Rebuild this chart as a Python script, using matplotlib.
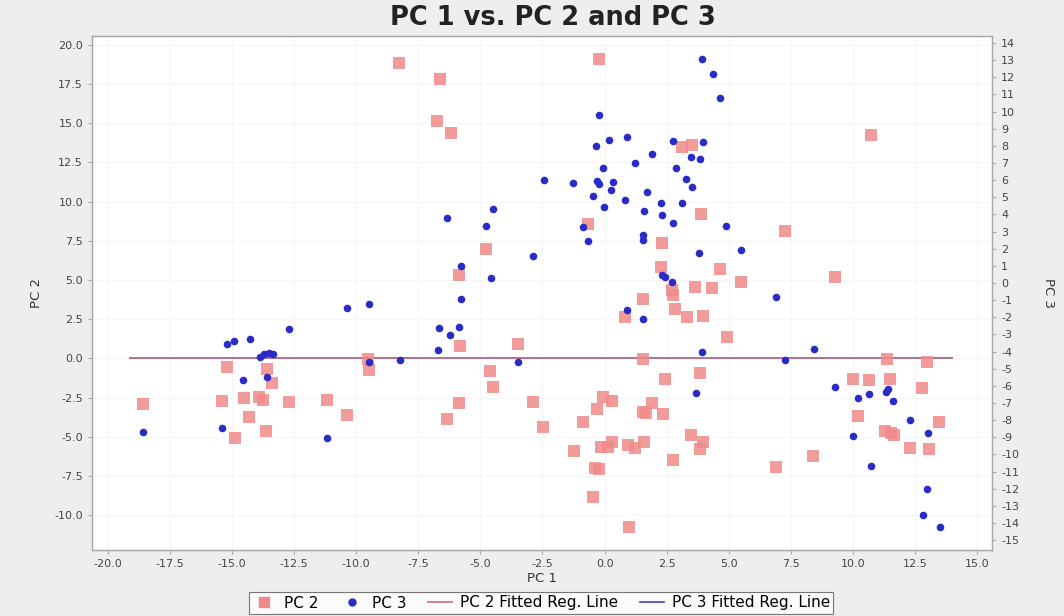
import numpy as np
import matplotlib.pyplot as plt
from matplotlib.lines import Line2D

plt.rcParams['axes.unicode_minus'] = False
plt.rcParams['font.family'] = ['DejaVu Sans']

# PC 2 scores (red squares) against PC 1
pc1_a = [-18.58, -15.22, -15.40, -14.89, -14.52, -14.31, -13.91, -13.75, -13.65, -13.61,
         -13.38, -12.70, -11.19, -10.39, -9.52, -9.48,
         -8.27, -6.63, -0.23, -6.74, -6.19, -0.66, -4.78, -5.85, 2.30, 2.26, 1.56, 0.82,
         -5.82, -3.50, 1.56, -4.62, -4.48, -5.85, -2.87, -6.34, -2.47, 2.43, -0.05, 0.31,
         -0.32, 1.90, 1.56, 1.65, 2.34, -0.86, 0.29, -0.16, 0.15, 0.95, 1.22, 1.60, -1.22,
         -0.37, -0.24, -0.46, 0.98, 2.74,
         3.10, 3.52, 10.72, 3.89, 7.28, 4.66, 5.51, 9.29, 3.66, 4.34, 2.70, 2.76, 2.83,
         3.30, 3.96, 4.92, 11.36, 12.97, 3.84, 10.02, 10.66, 11.49, 12.78, 10.22, 13.48,
         3.47, 3.95, 3.84, 11.30, 11.55, 11.66, 12.30, 13.05, 8.41, 6.90]
pc2 = [-2.94, -0.54, -2.71, -5.09, -2.51, -3.75, -2.47, -2.66, -4.62, -0.68,
       -1.56, -2.77, -2.66, -3.60, -0.06, -0.75,
       18.86, 17.82, 19.08, 15.14, 14.38, 8.57, 6.97, 5.34, 7.38, 5.85, 3.78, 2.65,
       0.81, 0.89, -0.06, -0.83, -1.85, -2.87, -2.79, -3.87, -4.40, -1.30, -2.45, -2.71,
       -3.25, -2.83, -3.43, -3.47, -3.54, -4.08, -5.32, -5.68, -5.64, -5.55, -5.74, -5.32, -5.92,
       -7.02, -7.06, -8.83, -10.75, -6.46,
       13.47, 13.61, 14.25, 9.22, 8.14, 5.70, 4.87, 5.17, 4.54, 4.48, 4.33, 4.04, 3.13,
       2.65, 2.71, 1.36, -0.02, -0.24, -0.96, -1.30, -1.36, -1.30, -1.90, -3.66, -4.08,
       -4.89, -5.32, -5.77, -4.62, -4.79, -4.89, -5.70, -5.77, -6.25, -6.92]

# PC 3 scores (blue dots) against PC 1
pc1_b = [-18.58, -15.22, -14.93, -14.28, -13.88, -13.70, -13.53, -13.34, -14.55, -13.61,
         -12.70, -15.40, -11.19, -10.39, -9.50, -9.48,
         -0.21, 0.18, 0.89, -0.36, -0.08, -2.44, -1.26, -0.32, -0.21, 0.33, 0.26, -0.48,
         0.82, -0.02, -0.88, -0.66, -2.87, 0.91,
         2.77, 3.98, 1.90, 1.22, 3.47, 3.84, 2.87, 3.28, 3.51, 1.70, 2.26, 3.10, 1.59, 2.30,
         2.77, 4.89, 1.53, 1.56, 3.80, 2.30, 2.43, 2.70, 1.53, 3.91, 4.35, 4.66, 5.51, 6.90,
         -6.36, -4.48, -4.79, -5.80, -4.59, -5.80, -6.66, -5.88, -6.23, -6.71, -8.24, -3.48,
         3.92, 8.43, 7.28, 3.68, 9.29, 10.22, 10.66, 11.33, 11.40, 11.63, 12.30, 13.04, 9.99,
         10.72, 12.97, 12.81, 13.51]
pc3 = [-8.71, -3.58, -3.38, -3.29, -4.34, -4.16, -4.10, -4.16, -5.64, -5.48,
       -2.68, -8.48, -9.06, -1.48, -1.23, -4.61,
       9.80, 8.34, 8.50, 8.01, 6.73, 6.01, 5.85, 5.95, 5.78, 5.91, 5.43, 5.08,
       4.86, 4.42, 3.25, 2.42, 1.56, -1.55,
       8.31, 8.21, 7.55, 7.02, 7.37, 7.22, 6.69, 6.05, 5.60, 5.28, 4.65, 4.65, 4.21, 3.97,
       3.48, 3.31, 2.80, 2.51, 1.77, 0.47, 0.37, 0.08, -2.12, 13.05, 12.21, 10.81, 1.91, -0.80,
       3.81, 4.30, 3.33, 0.99, 0.27, -0.93, -2.61, -2.55, -3.03, -3.91, -4.49, -4.59,
       -4.01, -3.85, -4.51, -6.42, -6.09, -6.69, -6.48, -6.38, -6.20, -6.87, -8.01, -8.73, -8.91,
       -10.66, -12.02, -13.55, -14.25]

# fitted regression lines (both flat at zero, drawn on the PC 2 axis)
fit_x = [-19.1, 14.0]
fit_pc2 = [0.0, 0.0]
fit_pc3 = [0.0, 0.0]

red = '#F08A8A'
blue = '#2B2BC8'
axis_grey = '#A8A8A8'
text_grey = '#444444'

fig = plt.figure(figsize=(10.64, 6.16), dpi=100, facecolor='#EEEEEE')
ax = fig.add_axes([92/1064, 1-550/616, 900/1064, 514/616])
ax.set_facecolor('white')

ax.plot(fit_x, fit_pc3, color='#5050C0', lw=1.3, zorder=2)
ax.plot(fit_x, fit_pc2, color='#C87884', lw=1.3, alpha=0.9, zorder=2)
ax.scatter(pc1_a, pc2, marker='s', s=68, color=red, alpha=0.85, linewidths=0, zorder=3)

ax.set_xlim(-20.64, 15.6)
ax.set_ylim(-12.23, 20.57)
ax.set_xticks(np.arange(-20, 15.1, 2.5))
ax.set_yticks(np.arange(-10, 20.1, 2.5))
ax.xaxis.set_major_formatter(plt.FormatStrFormatter('%.1f'))
ax.yaxis.set_major_formatter(plt.FormatStrFormatter('%.1f'))
ax.grid(True, color='#F6F6F6', lw=0.8)
ax.set_axisbelow(True)
ax.tick_params(labelsize=8, colors=text_grey, length=3, width=0.8)
ax.tick_params(color=axis_grey)
for s in ax.spines.values():
    s.set_color(axis_grey)
    s.set_linewidth(1.0)
ax.set_xlabel('PC 1', fontsize=9.5, color='#333333', labelpad=2)
ax.set_ylabel('PC 2', fontsize=9.5, color='#333333', labelpad=8)

ax2 = ax.twinx()
ax2.scatter(pc1_b, pc3, marker='o', s=30, color=blue, linewidths=0, zorder=4)
ax2.set_ylim(-15.58, 14.41)
ax2.set_yticks(np.arange(-15, 14.1, 1))
ax2.tick_params(labelsize=8, colors=text_grey, length=3, width=0.8)
ax2.tick_params(color=axis_grey)
for s in ax2.spines.values():
    s.set_color(axis_grey)
ax2.set_ylabel('PC 3', fontsize=9.5, color='#333333', rotation=270, labelpad=26)

fig.text(553/1064, 1-18/616, 'PC 1 vs. PC 2 and PC 3', ha='center', va='center',
         fontsize=18.5, fontweight='bold', color='#222222')

handles = [
    Line2D([], [], marker='s', ls='none', color=red, markersize=7),
    Line2D([], [], marker='o', ls='none', color=blue, markersize=5),
    Line2D([], [], color='#C87884', lw=1.3),
    Line2D([], [], color='#5050C0', lw=1.3),
]
labels = ['PC 2', 'PC 3', 'PC 2 Fitted Reg. Line', 'PC 3 Fitted Reg. Line']
leg = fig.legend(handles, labels, loc='center', bbox_to_anchor=(541/1064, 1-603/616),
                 ncol=4, fontsize=11, frameon=True, fancybox=False, handlelength=1.6,
                 handletextpad=0.5, columnspacing=1.4, borderpad=0.2)
leg.get_frame().set_edgecolor('#555555')
leg.get_frame().set_linewidth(0.8)
leg.get_frame().set_facecolor('white')

fig.savefig('out.png', dpi=100, facecolor=fig.get_facecolor())
